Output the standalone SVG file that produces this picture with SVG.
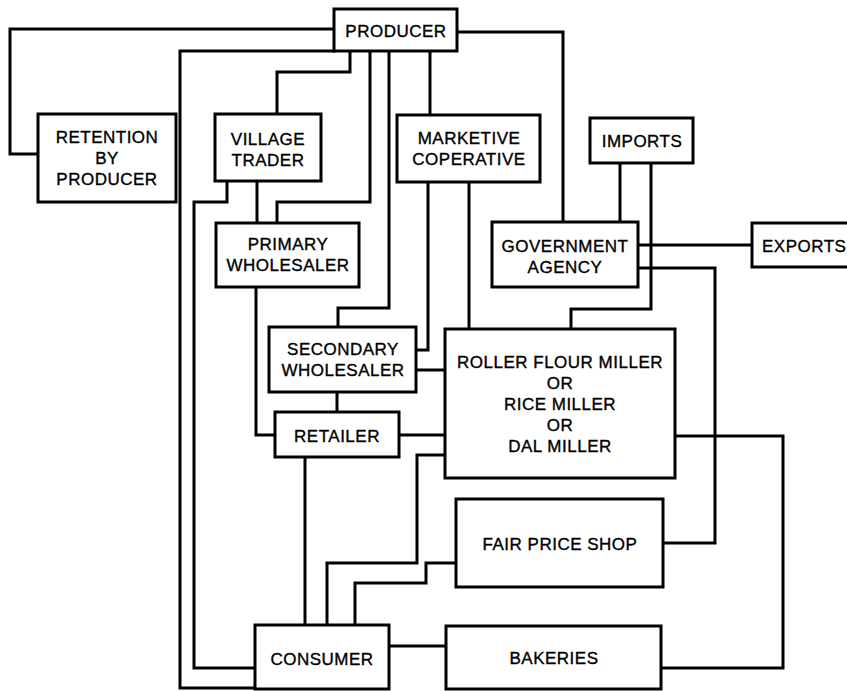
<svg xmlns="http://www.w3.org/2000/svg" width="847" height="691" viewBox="0 0 847 691">
<style>
.box{fill:#fff;stroke:#000;stroke-width:3}
.c{fill:none;stroke:#000;stroke-width:3;stroke-linejoin:miter;stroke-linecap:square}
text{font-family:"Liberation Sans",Arial,sans-serif;font-size:17px;letter-spacing:0.5px;fill:#000;stroke:#000;stroke-width:0.35px;text-anchor:middle}
</style>
<rect width="847" height="691" fill="#fff"/>
<g id="connectors">
<path class="c" d="M334,29 H10 V154 H38"/>
<path class="c" d="M334,51 H180 V688 H255"/>
<path class="c" d="M350,51 V72 H277 V114"/>
<path class="c" d="M370,51 V202 H277 V223"/>
<path class="c" d="M389,51 V308 H338 V327"/>
<path class="c" d="M430,51 V115"/>
<path class="c" d="M457,32 H563 V222"/>
<path class="c" d="M227,181 V202 H194 V668 H255"/>
<path class="c" d="M257,181 V223"/>
<path class="c" d="M428,182 V350 H416"/>
<path class="c" d="M469,182 V329"/>
<path class="c" d="M620,163 V222"/>
<path class="c" d="M651,163 V309 H571 V329"/>
<path class="c" d="M638,245 H752"/>
<path class="c" d="M638,268 H715 V543 H663"/>
<path class="c" d="M256,287 V435 H275"/>
<path class="c" d="M416,370 H445"/>
<path class="c" d="M337,392 V412"/>
<path class="c" d="M399,435 H445"/>
<path class="c" d="M305,457 V625"/>
<path class="c" d="M445,455 H417 V563 H327 V625"/>
<path class="c" d="M456,563 H426 V583 H355 V625"/>
<path class="c" d="M675,436 H783 V668 H661"/>
<path class="c" d="M389,646 H446"/>
</g>
<g id="producer"><rect class="box" x="334" y="9" width="123" height="42"/><text x="396" y="37">PRODUCER</text></g>
<g id="retention"><rect class="box" x="38" y="114" width="138" height="88"/><text x="107" y="143">RETENTION</text><text x="107" y="164">BY</text><text x="107" y="185">PRODUCER</text></g>
<g id="village-trader"><rect class="box" x="215" y="114" width="106" height="67"/><text x="268" y="145">VILLAGE</text><text x="268" y="166">TRADER</text></g>
<g id="marketive-cooperative"><rect class="box" x="397" y="115" width="143" height="67"/><text x="469" y="144">MARKETIVE</text><text x="469" y="165">COPERATIVE</text></g>
<g id="imports"><rect class="box" x="590" y="118" width="103" height="45"/><text x="642" y="147">IMPORTS</text></g>
<g id="government-agency"><rect class="box" x="492" y="222" width="146" height="65"/><text x="565" y="252">GOVERNMENT</text><text x="565" y="273">AGENCY</text></g>
<g id="exports"><rect class="box" x="752" y="223" width="100" height="44"/><text x="762" y="252" style="text-anchor:start">EXPORTS</text></g>
<g id="primary-wholesaler"><rect class="box" x="216" y="223" width="143" height="64"/><text x="288" y="250">PRIMARY</text><text x="288" y="271">WHOLESALER</text></g>
<g id="secondary-wholesaler"><rect class="box" x="269" y="327" width="147" height="65"/><text x="343" y="355">SECONDARY</text><text x="343" y="376">WHOLESALER</text></g>
<g id="miller"><rect class="box" x="445" y="329" width="230" height="149"/><text x="560" y="368">ROLLER FLOUR MILLER</text><text x="560" y="389">OR</text><text x="560" y="410">RICE MILLER</text><text x="560" y="431">OR</text><text x="560" y="452">DAL MILLER</text></g>
<g id="retailer"><rect class="box" x="275" y="412" width="124" height="45"/><text x="337" y="442">RETAILER</text></g>
<g id="fair-price-shop"><rect class="box" x="456" y="499" width="207" height="88"/><text x="560" y="550">FAIR PRICE SHOP</text></g>
<g id="consumer"><rect class="box" x="255" y="625" width="134" height="64"/><text x="322" y="665">CONSUMER</text></g>
<g id="bakeries"><rect class="box" x="446" y="626" width="215" height="63"/><text x="554" y="664">BAKERIES</text></g>
</svg>
